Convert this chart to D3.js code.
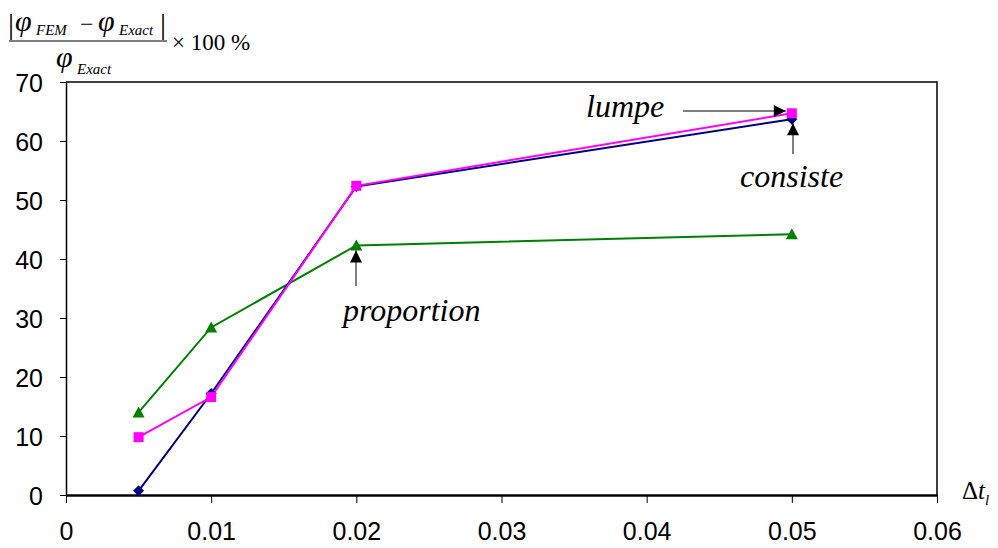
<!DOCTYPE html>
<html><head><meta charset="utf-8">
<script src="https://cdn.jsdelivr.net/npm/d3@7"></script>
<style>body{margin:0;background:#fff}svg{display:block}</style>
</head><body>
<script>
const xValues = [0.005, 0.01, 0.02, 0.05];
const consistent = [0.7, 17.2, 52.3, 63.7];
const lumped = [9.8, 16.6, 52.4, 64.7];
const proportional = [14.0, 28.4, 42.3, 44.2];
const xTicks = [0, 0.01, 0.02, 0.03, 0.04, 0.05, 0.06];
const yTicks = [0, 10, 20, 30, 40, 50, 60, 70];

(function () {
const W = 998, H = 548;
const svg = d3.select("body").append("svg").attr("width", W).attr("height", H);
const pL = 66, pR = 937, pT = 82, pB = 495;
const x = d3.scaleLinear().domain([0, 0.06]).range([pL, pR]);
const y = d3.scaleLinear().domain([0, 70]).range([pB, pT]);

svg.append("defs").append("marker").attr("id", "ah").attr("viewBox", "0 0 10 10")
  .attr("refX", 10).attr("refY", 5).attr("markerWidth", 14).attr("markerHeight", 12)
  .attr("markerUnits", "userSpaceOnUse").attr("orient", "auto")
  .append("path").attr("d", "M0,0 L10,5 L0,10 z").attr("fill", "#000");

// frame top & right
svg.append("path").attr("d", `M${pL},${pT}H${pR}V${pB}`).attr("fill", "none")
  .attr("stroke", "#000").attr("stroke-width", 1.5);

const sans = "Liberation Sans, Arial, sans-serif";
// y axis
const yAxis = d3.axisLeft(y).tickValues(yTicks).tickSize(6).tickSizeOuter(0).tickFormat(d3.format("d"));
const gy = svg.append("g").attr("transform", `translate(${pL},0)`).call(yAxis);
gy.select(".domain").attr("stroke-width", 1.5);
gy.selectAll("text").attr("font-family", sans).attr("font-size", 25)
  .attr("x", -23).attr("dy", "0.36em").attr("fill", "#000");

// x axis
const xAxis = d3.axisBottom(x).tickValues(xTicks).tickSize(8).tickSizeOuter(0)
  .tickFormat(d => d === 0 ? "0" : d3.format(".2f")(d));
const gx = svg.append("g").attr("transform", `translate(0,${pB})`).call(xAxis);
gx.select(".domain").attr("stroke-width", 2.5);
gx.selectAll("text").attr("font-family", sans).attr("font-size", 25)
  .attr("y", 27).attr("dy", "0.71em").attr("fill", "#000");

const line = d3.line().x((d, i) => x(xValues[i])).y(d => y(d));
const series = [
  {data: proportional, color: "#008000", shape: "tri"},
  {data: consistent, color: "#000080", shape: "dia"},
  {data: lumped, color: "#FF00FF", shape: "sq"}
];
series.forEach(s => {
  svg.append("path").attr("d", line(s.data)).attr("fill", "none").attr("stroke", s.color).attr("stroke-width", 2);
});
series.forEach(s => {
  s.data.forEach((v, i) => {
    const cx = x(xValues[i]), cy = y(v);
    let d;
    if (s.shape === "tri") d = `M${cx},${cy-6}L${cx+6},${cy+5}L${cx-6},${cy+5}Z`;
    else if (s.shape === "dia") d = `M${cx},${cy-5.5}L${cx+5.5},${cy}L${cx},${cy+5.5}L${cx-5.5},${cy}Z`;
    else d = `M${cx-5},${cy-5}h10v10h-10Z`;
    svg.append("path").attr("d", d).attr("fill", s.color);
  });
});

// annotations
const serif = "Liberation Serif, Times New Roman, serif";
function ann(text, tx, ty, x1, y1, x2, y2) {
  svg.append("text").attr("x", tx).attr("y", ty).attr("font-family", serif).attr("font-style", "italic")
    .attr("font-size", 32).text(text);
  svg.append("line").attr("x1", x1).attr("y1", y1).attr("x2", x2).attr("y2", y2)
    .attr("stroke", "#000").attr("stroke-width", 1).attr("marker-end", "url(#ah)");
}
ann("lumpe", 586, 117, 683, 111, x(0.05) - 6, 111);
ann("consiste", 740, 187, 793, 154, 793, y(63.7) + 4);
ann("proportion", 343, 321, 356, 286, 356, y(42.3) + 5);

// y label formula
const f = svg.append("g").attr("font-family", serif).attr("fill", "#000");
f.append("text").attr("x", 8).attr("y", 34).attr("font-size", 30).text("|");
f.append("text").attr("x", 15).attr("y", 31).attr("font-size", 30).attr("font-style", "italic").text("φ");
f.append("text").attr("x", 36).attr("y", 35).attr("font-size", 15).attr("font-style", "italic").text("FEM");
f.append("text").attr("x", 80).attr("y", 32).attr("font-size", 24).text("−");
f.append("text").attr("x", 98).attr("y", 31).attr("font-size", 30).attr("font-style", "italic").text("φ");
f.append("text").attr("x", 119).attr("y", 35).attr("font-size", 15).attr("font-style", "italic").text("Exact");
f.append("text").attr("x", 160).attr("y", 34).attr("font-size", 30).text("|");
f.append("line").attr("x1", 9).attr("x2", 167).attr("y1", 41).attr("y2", 41).attr("stroke", "#000").attr("stroke-width", 1.2);
f.append("text").attr("x", 56).attr("y", 67).attr("font-size", 30).attr("font-style", "italic").text("φ");
f.append("text").attr("x", 77).attr("y", 74).attr("font-size", 15).attr("font-style", "italic").text("Exact");
f.append("text").attr("x", 172).attr("y", 50).attr("font-size", 23).text("× 100 %");

// x label
const xl = svg.append("text").attr("x", 962).attr("y", 499).attr("font-family", serif).attr("font-size", 25);
xl.append("tspan").text("Δ");
xl.append("tspan").attr("font-style", "italic").text("t");
xl.append("tspan").attr("font-style", "italic").attr("font-size", 15).attr("dy", 6).text("l");
})();
</script>
</body></html>
